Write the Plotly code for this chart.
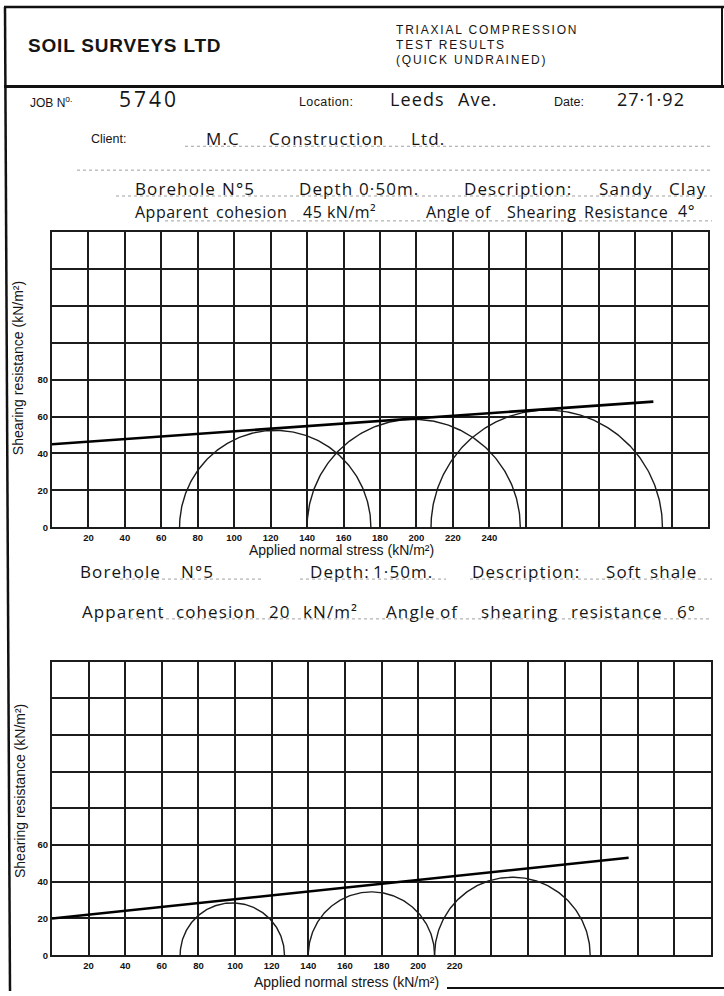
import numpy as np
import plotly.graph_objects as go

# ---- Test data -------------------------------------------------------------
# Borehole 5, 0.50 m (sandy clay) - cell pressure / major principal stress, kN/m2
upper_sigma3 = [70, 140, 208]
upper_sigma1 = [175, 257, 335]
upper_cohesion = 45          # kN/m2
upper_phi = 4                # degrees
upper_env_end = 330          # normal stress where the envelope is stopped

# Borehole 5, 1.50 m (soft shale)
lower_sigma3 = [70, 140, 209]
lower_sigma1 = [127, 209, 294]
lower_cohesion = 20
lower_phi = 6
lower_env_end = 315

# Axis tick labels written on the form
upper_xticks = [20, 40, 60, 80, 100, 120, 140, 160, 180, 200, 220, 240]
upper_yticks = [0, 20, 40, 60, 80]
lower_xticks = [20, 40, 60, 80, 100, 120, 140, 160, 180, 200, 220]
lower_yticks = [0, 20, 40, 60]

W, H = 724, 996
INK = "#1c1c1c"
HAND = "Open Sans"
PRINT = "Liberation Sans"


def fx(px):
    return px / W


def fy(py):
    return 1 - py / H


fig = go.Figure()


def mohr_circles(s3, s1, xa, ya):
    for a, b in zip(s3, s1):
        c, r = (a + b) / 2, (b - a) / 2
        t = np.linspace(0, np.pi, 181)
        fig.add_trace(go.Scatter(x=c + r * np.cos(t), y=r * np.sin(t), mode="lines",
                                 line=dict(color=INK, width=1.4), xaxis=xa, yaxis=ya,
                                 hoverinfo="skip", showlegend=False))


def envelope(c, phi, xend, xa, ya):
    xs = np.array([0, xend])
    ys = c + xs * np.tan(np.radians(phi))
    fig.add_trace(go.Scatter(x=xs, y=ys, mode="lines", line=dict(color="#000", width=2.6),
                             xaxis=xa, yaxis=ya, hoverinfo="skip", showlegend=False))


mohr_circles(upper_sigma3, upper_sigma1, "x", "y")
envelope(upper_cohesion, upper_phi, upper_env_end, "x", "y")
mohr_circles(lower_sigma3, lower_sigma1, "x2", "y2")
envelope(lower_cohesion, lower_phi, lower_env_end, "x2", "y2")

grid = dict(showgrid=True, gridcolor=INK, gridwidth=1.6, zeroline=False,
            showline=True, mirror=True, linecolor=INK, linewidth=2, ticks="",
            tickfont=dict(family=PRINT, size=9.5, color="#111", weight="bold"),
            minor=dict(tickmode="linear", tick0=0, dtick=20, showgrid=True,
                       gridcolor=INK, gridwidth=1.6))


def axis(domain, rng, ticks, anchor):
    d = dict(grid)
    d.update(domain=domain, range=rng, tickmode="array", tickvals=ticks,
             ticktext=[str(v) for v in ticks], anchor=anchor, fixedrange=True)
    return d


fig.update_layout(
    width=W, height=H, margin=dict(l=0, r=0, t=0, b=0),
    paper_bgcolor="white", plot_bgcolor="white", showlegend=False,
    xaxis=axis([fx(52), fx(708)], [0, 360], upper_xticks, "y"),
    yaxis=axis([fy(530), fy(233)], [0, 160], upper_yticks, "x"),
    xaxis2=axis([fx(52), fx(711)], [0, 360], lower_xticks, "y2"),
    yaxis2=axis([fy(960), fy(665)], [0, 160], lower_yticks, "x2"),
)

# ---- Form lines ------------------------------------------------------------
def pline(x0, y0, x1, y1, width, color="#111", dash="solid"):
    return dict(type="line", xref="paper", yref="paper",
                x0=fx(x0), x1=fx(x1), y0=fy(y0), y1=fy(y1),
                line=dict(color=color, width=width, dash=dash))


shapes = [
    pline(4, 7, 724, 7, 2.5),
    pline(4, 87, 724, 87, 3),
    pline(722, 7, 722, 87, 2),
    pline(5, 7, 10, 996, 2.5),
    pline(447, 993, 724, 993, 2),
]
dotted = [
    (185, 712, 147), (77, 712, 171),
    (116, 712, 197), (165, 712, 222),
    (120, 262, 582), (300, 446, 582), (470, 712, 582),
    (118, 712, 622),
]
for x0, x1, y in dotted:
    shapes.append(pline(x0, y, x1, y, 1, "#a0a0a0", "dot"))
fig.update_layout(shapes=shapes)

# ---- Text ------------------------------------------------------------------
notes = []


def txt(x, y, s, size, family=HAND, anchor="left", color="#151515", angle=0, spacing=0):
    if spacing:
        s = f'<span style="letter-spacing:{spacing}px">{s}</span>'
    notes.append(dict(x=fx(x), y=fy(y), xref="paper", yref="paper", text=s,
                      showarrow=False, xanchor=anchor, yanchor="middle", textangle=angle,
                      font=dict(family=family, size=size, color=color)))


def row(y, words, size, spacing=1.1):
    for x, w in words:
        txt(x, y, w, size, spacing=spacing)


# printed heading
txt(26, 46, "<b>SOIL SURVEYS LTD</b>", 19, PRINT, spacing=0.8)
txt(394, 30, "TRIAXIAL COMPRESSION", 12, PRINT, spacing=1.8)
txt(394, 45, "TEST RESULTS", 12, PRINT, spacing=1.8)
txt(394, 60, "(QUICK UNDRAINED)", 12, PRINT, spacing=1.8)

txt(28, 103, "JOB N<sup>o.</sup>", 12, PRINT)
txt(297, 103, "Location:", 12.5, PRINT, spacing=0.4)
txt(552, 103, "Date:", 12.5, PRINT)
txt(89, 140, "Client:", 12.5, PRINT)

# hand-written entries
txt(117, 100, "5740", 21, spacing=3)
row(100, [(388, "Leeds"), (456, "Ave.")], 18)
txt(615, 99, "27·1·92", 18, spacing=1)
row(139, [(204, "M.C"), (267, "Construction"), (409, "Ltd.")], 17)

row(189, [(133, "Borehole"), (220, "N°5"), (297, "Depth"), (357, "0·50m."),
          (462, "Description:"), (597, "Sandy"), (667, "Clay")], 17)
row(213, [(133, "Apparent"), (214, "cohesion"), (301, "45 kN/m²"),
          (424, "Angle of"), (505, "Shearing"), (582, "Resistance")], 16, 0.5)
txt(676, 212, "4°", 16, spacing=0.5)

row(574, [(78, "Borehole"), (179, "N°5"), (308, "Depth:"), (371, "1·50m."),
          (470, "Description:"), (604, "Soft"), (648, "shale")], 17)
row(615, [(80, "Apparent"), (174, "cohesion"), (267, "20"), (301, "kN/m²"),
          (384, "Angle"), (438, "of"), (479, "shearing"), (569, "resistance"),
          (675, "6°")], 17)

# axis titles
txt(341, 553, "Applied normal stress (kN/m²)", 14, PRINT, anchor="center")
txt(346, 987, "Applied normal stress (kN/m²)", 14, PRINT, anchor="center")
txt(18, 370, "Shearing resistance (kN/m²)", 14, PRINT, anchor="center", angle=-90)
txt(20, 795, "Shearing resistance (kN/m²)", 14, PRINT, anchor="center", angle=-90)

fig.update_layout(annotations=notes)

fig.write_html("out.html")
